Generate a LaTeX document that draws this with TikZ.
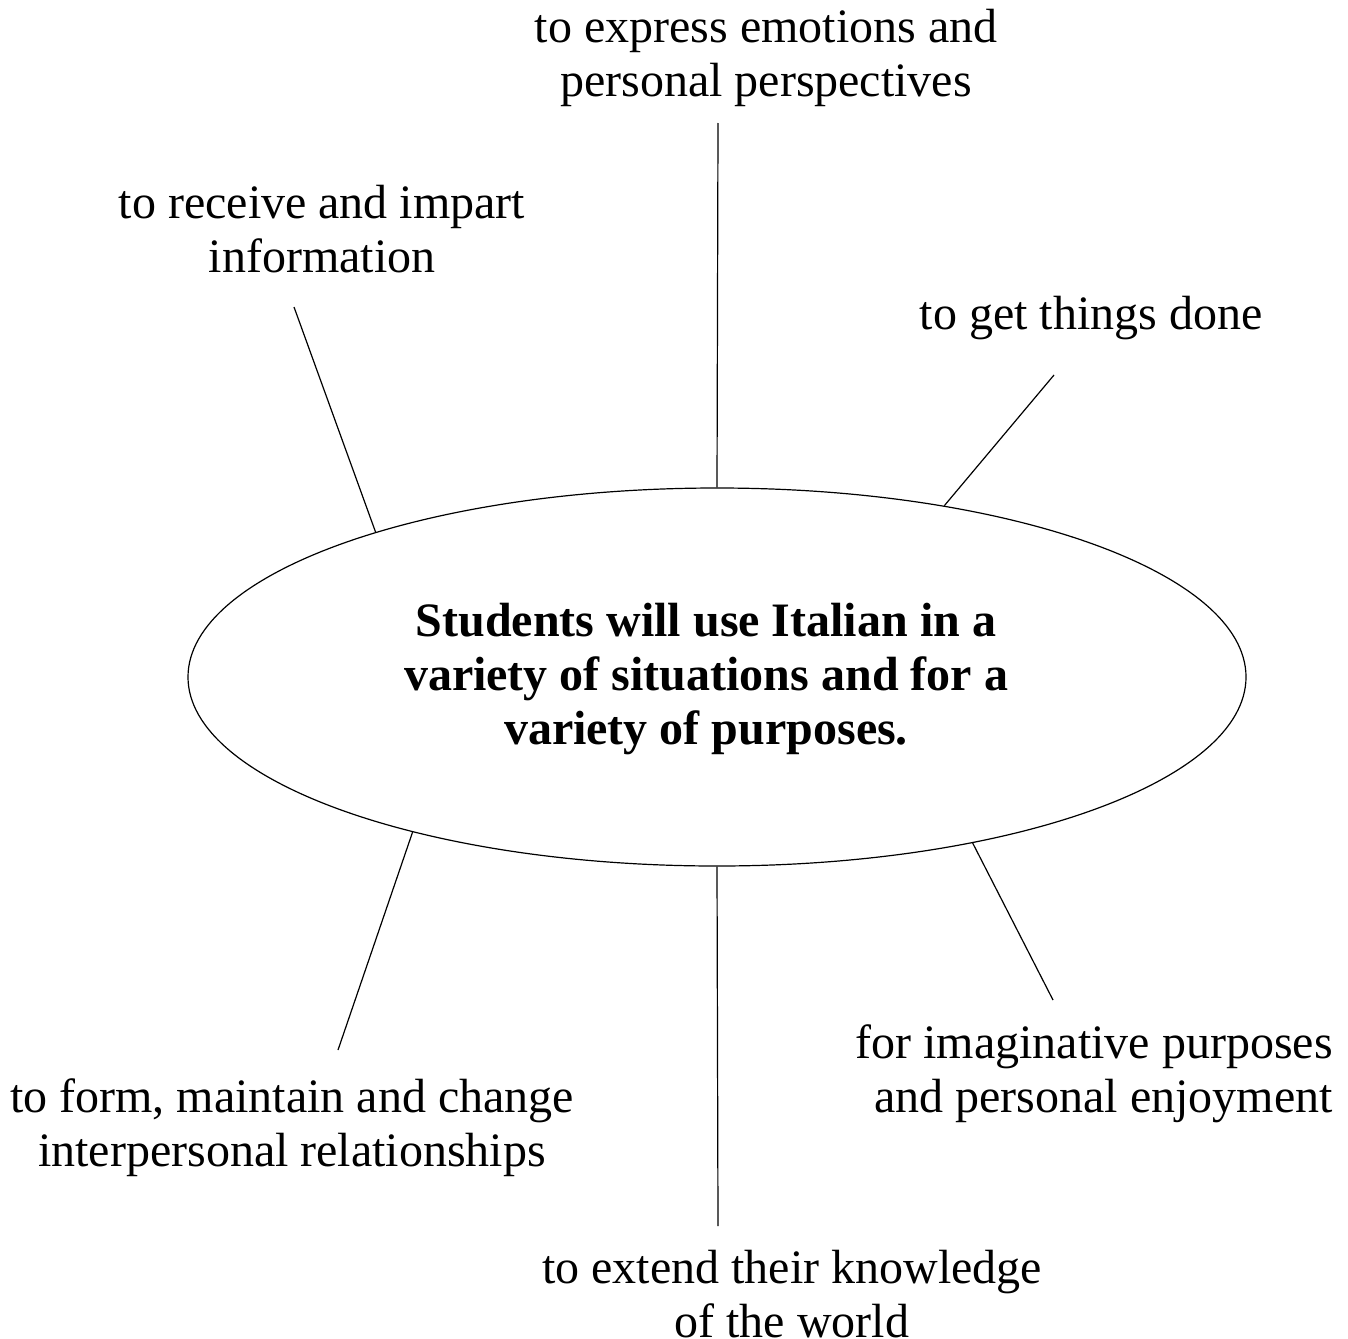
\documentclass[tikz,border=0pt]{standalone}
\usepackage{fontspec}
\setmainfont{Liberation Serif}
\usetikzlibrary{shapes.geometric}
\begin{document}
\begin{tikzpicture}[x=1pt,y=-1pt,
  label/.style={font=\fontsize{48}{54}\selectfont, align=center, inner sep=0pt},
  spoke/.style={line width=1.2pt}]
\useasboundingbox (0,0) rectangle (1348,1338);
% central idea
\node[ellipse, draw, line width=1.2pt, minimum width=1058pt, minimum height=378pt, inner sep=0pt] (c) at (717,677) {};
\node[font=\bfseries\fontsize{48}{54}\selectfont, align=center, inner sep=0pt] (ct) at (706,679)
  {Students will use Italian in a\\variety of situations and for a\\variety of purposes.};
% purposes
\node[label] (t1) at (766,58) {to express emotions and\\personal perspectives};
\node[label] (t2) at (322,229) {to receive and impart\\information};
\node[label] (t3) at (1091,318) {to get things done};
\node[label, align=right, anchor=east] (t4) at (1333,1074) {for imaginative purposes\\and personal enjoyment};
\node[label] (t5) at (292,1128) {to form, maintain and change\\interpersonal relationships};
\node[label] (t6) at (792,1294) {to extend their knowledge\\of the world};
% spoke ends
\coordinate (e1) at (718,123);
\coordinate (e2) at (294,307);
\coordinate (e3) at (1054,375);
\coordinate (e4) at (1053,1000);
\coordinate (e5) at (338,1050);
\coordinate (e6) at (718,1226);
\draw[spoke] (e1) -- (c.90);
\draw[spoke] (e2) -- (c.157.1);
\draw[spoke] (e3) -- (c.37.5);
\draw[spoke] (e4) -- (c.327.1);
\draw[spoke] (e5) -- (c.207);
\draw[spoke] (e6) -- (c.270);
\end{tikzpicture}
\end{document}
